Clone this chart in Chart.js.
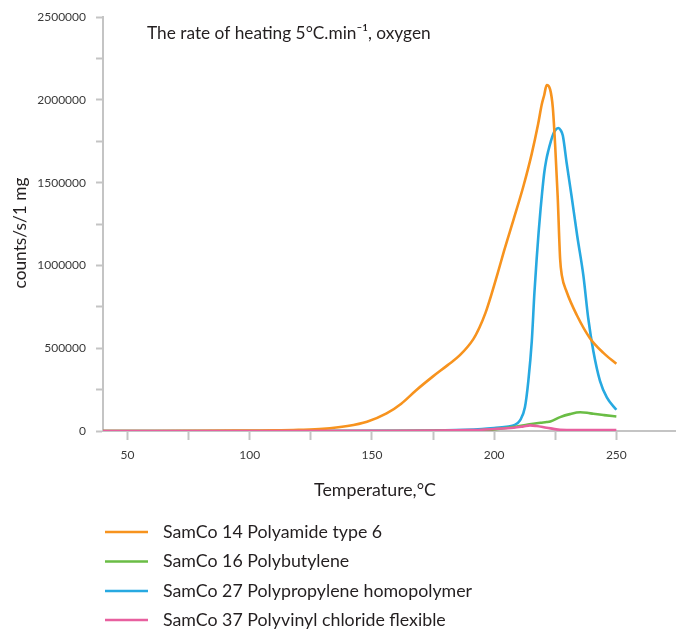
<!DOCTYPE html>
<html>
<head>
<meta charset="utf-8">
<script src="https://cdn.jsdelivr.net/npm/chart.js@4.4.1/dist/chart.umd.min.js"></script>
<style>
  html, body { margin: 0; padding: 0; background: #ffffff; }
  #wrap { position: relative; width: 676px; height: 634px; }
</style>
</head>
<body>
<div id="wrap"><canvas id="chart"></canvas></div>
<script>
// Thermo-oxidative emission, heating rate 5 °C/min in oxygen
const chartTitle = 'The rate of heating 5°C.min\u207B\u00B9, oxygen';
const xTitle = 'Temperature,°C';
const yTitle = 'counts/s/1 mg';

const seriesNames = [
  'SamCo 14 Polyamide type 6',
  'SamCo 16 Polybutylene',
  'SamCo 27 Polypropylene homopolymer',
  'SamCo 37 Polyvinyl chloride flexible'
];
const seriesColors = ['#f7931e', '#6abd45', '#27a9e1', '#e8609f'];

// SamCo 14 Polyamide type 6
const pa6Temp = [40, 60, 80, 100, 110, 120, 130, 140, 148, 156, 162, 168, 175, 181, 186, 191.5, 194, 196.5, 199, 201.5, 204, 208, 212, 215.4, 218, 219.5, 220.5, 221.5, 222.9, 224, 225, 226, 227, 227.7, 229.7, 233.8, 239.2, 244.7, 250];
const pa6Counts = [0, 0, 1000, 3000, 4000, 7000, 13000, 30000, 56000, 106000, 165000, 245000, 330000, 398000, 458000, 555000, 625000, 715000, 830000, 955000, 1085000, 1280000, 1480000, 1676000, 1855000, 1974000, 2030000, 2090000, 2064000, 1955000, 1716000, 1417000, 1039000, 940000, 840000, 701000, 561000, 472000, 406000];

// SamCo 16 Polybutylene
const pbTemp = [40, 100, 150, 185, 194, 200, 208, 216, 219, 221.5, 223, 227, 231, 235.2, 238, 240.6, 245, 250];
const pbCounts = [0, 0, 0, 2000, 4000, 10000, 24000, 44000, 50000, 54000, 58000, 84000, 102000, 113000, 110000, 104000, 96000, 88000];

// SamCo 27 Polypropylene homopolymer
const ppTemp = [40, 100, 150, 180, 195, 200, 205, 207.9, 210.6, 212.6, 214, 215.4, 216.5, 217.4, 218.2, 219, 219.7, 220.5, 221.3, 222.2, 223.2, 224.2, 225.3, 226.3, 227.2, 228.1, 229.7, 231.7, 234, 236.5, 238.5, 240.6, 243.3, 246.1, 250];
const ppCounts = [0, 0, 1000, 4000, 12000, 18000, 26000, 34000, 64000, 143000, 303000, 541000, 840000, 1040000, 1200000, 1340000, 1450000, 1560000, 1635000, 1695000, 1750000, 1795000, 1822000, 1831000, 1818000, 1785000, 1616000, 1417000, 1178000, 940000, 681000, 482000, 303000, 203000, 128000];

// SamCo 37 Polyvinyl chloride flexible
const pvcTemp = [40, 100, 150, 190, 200, 208, 212, 214.7, 217.4, 221.5, 227, 235, 250];
const pvcCounts = [0, 0, 1000, 5000, 12000, 20000, 28000, 34000, 30000, 20000, 8000, 6000, 5000];

// Axis ranges and tick steps
const xMin = 40, xMax = 274.4, xStep = 25, xLabelEvery = 50;
const yMin = 0, yMax = 2500000, yStep = 250000, yLabelEvery = 500000;

const allTemps = [pa6Temp, pbTemp, ppTemp, pvcTemp];
const allCounts = [pa6Counts, pbCounts, ppCounts, pvcCounts];
const drawOrder = [1, 2, 3, 0]; // PVC drawn on top near the baseline

const datasets = seriesNames.map((name, i) => ({
  label: name,
  data: allTemps[i].map((t, k) => ({ x: t, y: allCounts[i][k] })),
  borderColor: seriesColors[i],
  backgroundColor: seriesColors[i],
  borderWidth: 2.6,
  pointRadius: 0,
  fill: false,
  cubicInterpolationMode: 'monotone',
  order: drawOrder[i]
}));

const FONT = 'Lato, "Open Sans", sans-serif';
const TEXT = '#231f20';
const AXIS = '#c4c4c4';

// Title, axis titles and the stacked legend below the plot
const textPlugin = {
  id: 'chartTexts',
  afterDraw(chart) {
    const ctx = chart.ctx;
    ctx.save();
    ctx.fillStyle = TEXT;
    ctx.textBaseline = 'middle';

    ctx.font = '17.3px ' + FONT;
    ctx.textAlign = 'left';
    ctx.fillText(chartTitle, 147, 33);

    ctx.font = '17.8px ' + FONT;
    ctx.textAlign = 'center';
    ctx.fillText(xTitle, 375, 490);

    ctx.save();
    ctx.font = '17.3px ' + FONT;
    ctx.translate(20, 233);
    ctx.rotate(-Math.PI / 2);
    ctx.fillText(yTitle, 0, 0);
    ctx.restore();

    ctx.font = '17.8px ' + FONT;
    const rowY = [532, 561.5, 591, 620];
    chart.data.datasets.forEach((ds, i) => {
      const y = rowY[i];
      ctx.strokeStyle = ds.borderColor;
      ctx.lineWidth = 2.6;
      ctx.beginPath();
      ctx.moveTo(105, y);
      ctx.lineTo(148, y);
      ctx.stroke();
      ctx.fillStyle = TEXT;
      ctx.textAlign = 'left';
      ctx.fillText(ds.label, 163, y);
    });
    ctx.restore();
  }
};

new Chart(document.getElementById('chart'), {
  type: 'line',
  data: { datasets },
  options: {
    responsive: true,
    maintainAspectRatio: false,
    animation: false,
    layout: { padding: { top: 12, right: 0, bottom: 0, left: 0 } },
    plugins: {
      legend: { display: false },
      tooltip: { enabled: false },
      title: { display: false }
    },
    scales: {
      x: {
        type: 'linear',
        min: xMin,
        max: xMax,
        afterFit(scale) { scale.height = 203; },
        border: { display: true, color: AXIS, width: 2 },
        grid: { display: true, drawOnChartArea: false, drawTicks: true, tickLength: 9, tickColor: AXIS, tickWidth: 2 },
        ticks: {
          stepSize: xStep,
          includeBounds: false,
          autoSkip: false,
          maxRotation: 0,
          padding: 8,
          color: '#3a3a3a',
          font: { family: FONT, size: 12 },
          callback: v => (v % xLabelEvery === 0 ? String(v) : '')
        }
      },
      y: {
        type: 'linear',
        min: yMin,
        max: yMax,
        afterFit(scale) { scale.width = 103; },
        border: { display: true, color: AXIS, width: 2 },
        grid: { display: true, drawOnChartArea: false, drawTicks: true, tickLength: 7, tickColor: AXIS, tickWidth: 2 },
        ticks: {
          stepSize: yStep,
          autoSkip: false,
          padding: 10,
          color: '#3a3a3a',
          font: { family: FONT, size: 12 },
          callback: v => (v % yLabelEvery === 0 ? String(v) : '')
        }
      }
    }
  },
  plugins: [textPlugin]
});
</script>
</body>
</html>
